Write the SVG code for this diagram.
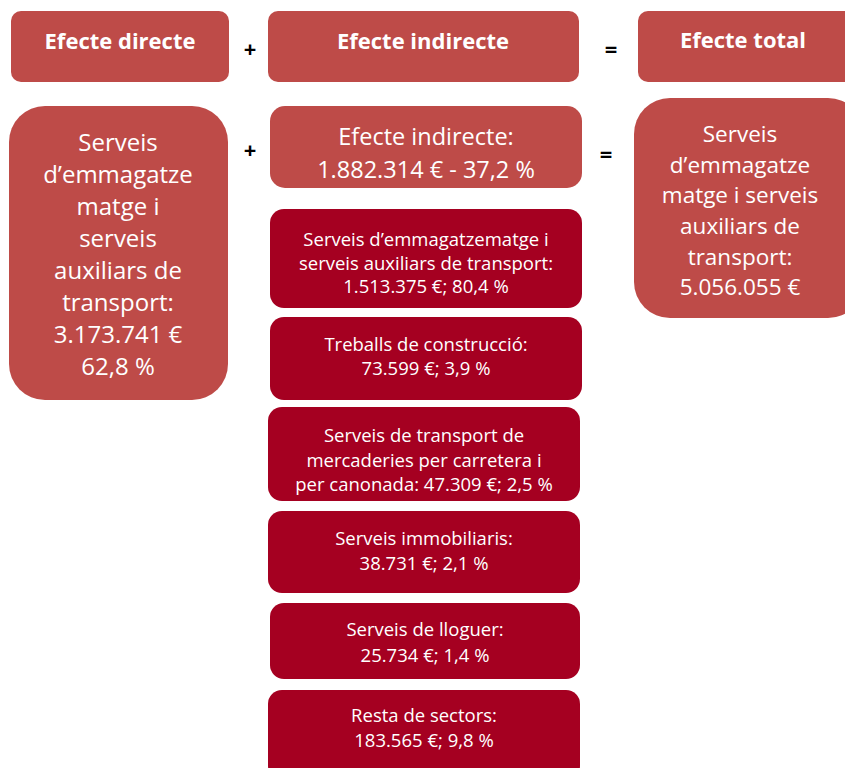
<svg xmlns="http://www.w3.org/2000/svg" width="845" height="768" viewBox="0 0 845 768">
<style>
.light{fill:#BE4B48}
.dark{fill:#A50021}
text{font-family:"Open Sans","Noto Sans",sans-serif;fill:#fff;text-anchor:middle}
.h{font-size:22px;font-weight:bold}
.big{font-size:22.5px}
.sm{font-size:18.5px}
.op{fill:#000;font-size:22px;font-weight:bold}
</style>
<g id="hdr-direct"><rect class="light" x="11" y="11" width="218" height="71" rx="10"/><text class="h" x="120" y="49">Efecte directe</text></g>
<g id="hdr-indirect"><rect class="light" x="268" y="11" width="311" height="71" rx="10"/><text class="h" x="423" y="49">Efecte indirecte</text></g>
<g id="hdr-total"><rect class="light" x="638" y="11" width="220" height="71" rx="10"/><text class="h" x="743" y="48">Efecte total</text></g>
<g id="ops">
<text class="op" x="250" y="57">+</text>
<text class="op" x="611" y="57">=</text>
<text class="op" x="250" y="158">+</text>
<text class="op" x="606" y="162">=</text>
</g>
<g id="direct">
<rect class="light" x="9" y="106" width="219" height="294" rx="36"/>
<text class="big" style="font-size:24px" x="118"><tspan x="118" y="151">Serveis</tspan><tspan x="118" y="183">d’emmagatze</tspan><tspan x="118" y="215">matge i</tspan><tspan x="118" y="247">serveis</tspan><tspan x="118" y="279">auxiliars de</tspan><tspan x="118" y="311">transport:</tspan><tspan x="118" y="343">3.173.741 €</tspan><tspan x="118" y="375">62,8 %</tspan></text>
</g>
<g id="indirect">
<rect class="light" x="270" y="106" width="312" height="82" rx="15"/>
<text class="big" style="font-size:23.5px" x="426"><tspan x="426" y="145">Efecte indirecte:</tspan><tspan x="426" y="178">1.882.314 € - 37,2 %</tspan></text>
</g>
<g id="total">
<rect class="light" x="634" y="98" width="230" height="220" rx="36"/>
<text class="big" x="740"><tspan x="740" y="142">Serveis</tspan><tspan x="740" y="173">d’emmagatze</tspan><tspan x="740" y="203">matge i serveis</tspan><tspan x="740" y="234">auxiliars de</tspan><tspan x="740" y="265">transport:</tspan><tspan x="740" y="295">5.056.055 €</tspan></text>
</g>
<g id="s1">
<rect class="dark" x="270" y="209" width="312" height="99" rx="14"/>
<text class="sm"><tspan x="426" y="246">Serveis d’emmagatzematge i</tspan><tspan x="426" y="270">serveis auxiliars de transport:</tspan><tspan x="426" y="293">1.513.375 €; 80,4 %</tspan></text>
</g>
<g id="s2">
<rect class="dark" x="270" y="317" width="312" height="83" rx="14"/>
<text class="sm"><tspan x="426" y="351">Treballs de construcció:</tspan><tspan x="426" y="375">73.599 €; 3,9 %</tspan></text>
</g>
<g id="s3">
<rect class="dark" x="268" y="407" width="312" height="94" rx="14"/>
<text class="sm"><tspan x="424" y="442">Serveis de transport de</tspan><tspan x="424" y="467">mercaderies per carretera i</tspan><tspan x="424" y="491">per canonada: 47.309 €; 2,5 %</tspan></text>
</g>
<g id="s4">
<rect class="dark" x="268" y="511" width="312" height="82" rx="14"/>
<text class="sm"><tspan x="424" y="545">Serveis immobiliaris:</tspan><tspan x="424" y="570">38.731 €; 2,1 %</tspan></text>
</g>
<g id="s5">
<rect class="dark" x="270" y="603" width="310" height="76" rx="14"/>
<text class="sm"><tspan x="425" y="636">Serveis de lloguer:</tspan><tspan x="425" y="662">25.734 €; 1,4 %</tspan></text>
</g>
<g id="s6">
<rect class="dark" x="268" y="690" width="312" height="90" rx="14"/>
<text class="sm"><tspan x="424" y="722">Resta de sectors:</tspan><tspan x="424" y="747">183.565 €; 9,8 %</tspan></text>
</g>
<g id="connectors"/>
</svg>
